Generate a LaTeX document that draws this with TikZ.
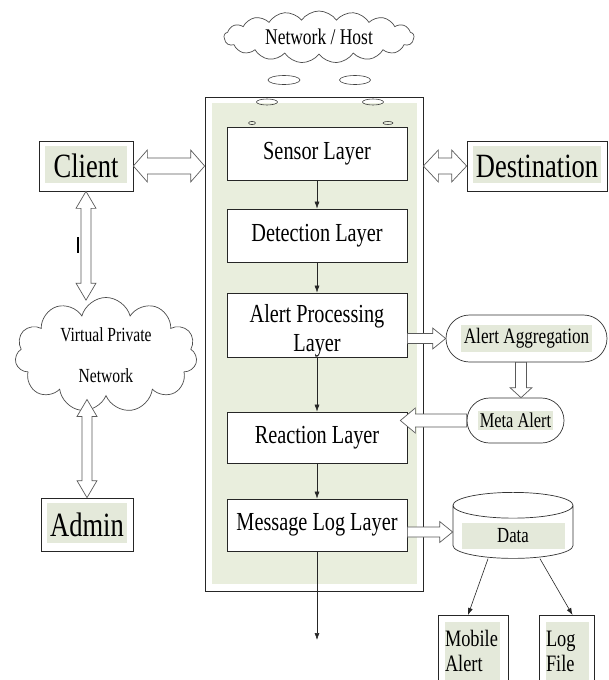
\documentclass[tikz,border=0pt]{standalone}
\usepackage{fontspec}
\setmainfont{Liberation Serif}[FakeStretch=0.78]
\usetikzlibrary{shapes.symbols,shapes.geometric,shapes.misc,calc,arrows.meta}
\definecolor{panel}{HTML}{E9EEDD}
\definecolor{hlc}{HTML}{E4E9DA}
\definecolor{agray}{HTML}{5A5A5A}
% shaft half-width, head half-width, head length of the hollow arrows
\newcommand\hsw{5}
\newcommand\hhw{10}
\newcommand\hhl{14}
\tikzset{
  hdim/.code args={#1/#2/#3}{\renewcommand\hsw{#1}\renewcommand\hhw{#2}\renewcommand\hhl{#3}},
  hollowone/.style={draw=agray, fill=white, line width=0.7pt, line join=miter,
    to path={let \p1=(\tikztostart), \p2=(\tikztotarget),
      \n1={atan2(\y2-\y1,\x2-\x1)}, \n2={veclen(\x2-\x1,\y2-\y1)} in
      ($(\p1)+(\n1+90:\hsw)$) -- ($(\p1)+(\n1:\n2-\hhl)+(\n1+90:\hsw)$)
      -- ($(\p1)+(\n1:\n2-\hhl)+(\n1+90:\hhw)$) -- (\p2)
      -- ($(\p1)+(\n1:\n2-\hhl)+(\n1-90:\hhw)$) -- ($(\p1)+(\n1:\n2-\hhl)+(\n1-90:\hsw)$)
      -- ($(\p1)+(\n1-90:\hsw)$) -- cycle}},
  hollowtwo/.style={draw=agray, fill=white, line width=0.7pt, line join=miter,
    to path={let \p1=(\tikztostart), \p2=(\tikztotarget),
      \n1={atan2(\y2-\y1,\x2-\x1)}, \n2={veclen(\x2-\x1,\y2-\y1)} in
      ($(\p1)+(\n1:\hhl)+(\n1+90:\hsw)$) -- ($(\p1)+(\n1:\n2-\hhl)+(\n1+90:\hsw)$)
      -- ($(\p1)+(\n1:\n2-\hhl)+(\n1+90:\hhw)$) -- (\p2)
      -- ($(\p1)+(\n1:\n2-\hhl)+(\n1-90:\hhw)$) -- ($(\p1)+(\n1:\n2-\hhl)+(\n1-90:\hsw)$)
      -- ($(\p1)+(\n1:\hhl)+(\n1-90:\hsw)$) -- ($(\p1)+(\n1:\hhl)+(\n1-90:\hhw)$)
      -- (\p1) -- ($(\p1)+(\n1:\hhl)+(\n1+90:\hhw)$) -- cycle}},
  hlfill/.style n args={4}{path picture={\fill[hlc]
      ([xshift=#1,yshift=-#2]path picture bounding box.north west) rectangle
      ([xshift=-#3,yshift=#4]path picture bounding box.south east);}},
  layerbox/.style={draw=black!85, fill=white, line width=0.7pt, minimum width=180,
    inner sep=0, align=center, font=\fontsize{26}{29}\selectfont},
  sidebox/.style={draw=black!85, fill=white, line width=0.7pt, inner sep=0,
    font=\fontsize{34}{34}\selectfont, hlfill={6}{5}{6}{8}},
  outbox/.style={draw=black!85, fill=white, line width=0.7pt, inner sep=7,
    minimum height=72, align=left, font=\fontsize{23.5}{25}\selectfont},
  flow/.style={draw=black!85, line width=0.6pt, -{Latex[length=7pt,width=5pt]}},
  pill/.style={rounded rectangle, draw=black!80, fill=white, line width=0.7pt, inner sep=0},
  puff/.style={cloud, draw=black!70, fill=white, line width=0.7pt, cloud ignores aspect, inner sep=0},
  hole/.style={draw=black!75, line width=0.6pt},
}
\begin{document}
\begin{tikzpicture}[x=1pt,y=1pt]
\useasboundingbox (0,0) rectangle (608,-680);
\fill[white] (0,0) rectangle (608,-680);

% network cloud and the openings of the IDS frame
\node[puff, cloud puffs=17, cloud puff arc=110, minimum width=190, minimum height=52,
      font=\fontsize{22.4}{24}\selectfont] (net) at (319,-37) {Network / Host};
\draw[hole] (284,-80) ellipse [x radius=16, y radius=4.5];
\draw[hole] (355,-80) ellipse [x radius=15.5, y radius=4.5];

% IDS frame
\node[draw=black!85, fill=white, line width=0.7pt, minimum width=218, minimum height=494,
      inner sep=0] (frame) at (314,-344) {};
\node[fill=panel, minimum width=205, minimum height=481, inner sep=0] (panel) at (314.5,-343.5) {};
\draw[hole] (267,-102) ellipse [x radius=10.5, y radius=3];
\draw[hole] (373,-102) ellipse [x radius=10.5, y radius=3];
\draw[hole] (252,-123) ellipse [x radius=3.5, y radius=1.6];
\draw[hole] (388,-123) ellipse [x radius=5, y radius=1.6];

% layers
\node[layerbox, minimum height=53] (sensor) at (317,-153.5) {Sensor Layer};
\node[layerbox, minimum height=53] (detect) at (317,-235.5) {Detection Layer};
\node[layerbox, minimum height=64,
      label={[yshift=-6pt, align=center, font=\fontsize{26}{29}\selectfont]center:Alert Processing\\Layer}]
  (alertp) at (317,-325) {};
\node[layerbox, minimum height=51] (react) at (317,-437.5) {Reaction Layer};
\node[layerbox, minimum height=52] (msg) at (317,-525) {Message Log Layer};
\coordinate (out) at (317,-640);

\draw[flow] (sensor) -- (detect);
\draw[flow] (detect) -- (alertp);
\draw[flow] (alertp) -- (react);
\draw[flow] (react) -- (msg);
\draw[flow] (msg) -- (out);

% endpoints
\node[sidebox, minimum width=94, minimum height=50] (client) at (86,-166) {Client};
\node[sidebox, minimum width=140, minimum height=50] (dest) at (537,-166) {Destination};
\node[sidebox, minimum width=92, minimum height=53] (admin) at (87,-524.5) {Admin};
\node[puff, cloud puffs=11, minimum width=182, minimum height=115, align=center,
      font=\fontsize{20}{41}\selectfont] (vpn) at (106,-355) {Virtual Private\\Network};

\draw[hollowtwo, hdim=8/16/14] (client.east) to (client.east -| frame.west);
\draw[hollowtwo, hdim=8/16/15] (frame.east |- dest.west) to (dest.west);
\draw[hollowtwo, hdim=5/10/17] (client.south) to ([yshift=-3]client.south |- vpn.north);
\draw[hollowtwo, hdim=5/10/17] ([yshift=-3]admin.north |- vpn.south) to (admin.north);
\draw[line width=1.3pt] (78,-237) -- (78,-253);

% alert handling
\node[pill, minimum width=161, minimum height=47, font=\fontsize{22}{24}\selectfont]
  (agg) at (526.5,-338.5) {\setlength\fboxsep{3pt}\colorbox{hlc}{Alert Aggregation}};
\node[pill, minimum width=97, minimum height=45, font=\fontsize{21}{23}\selectfont]
  (meta) at (515.5,-420.5) {\setlength\fboxsep{2pt}\colorbox{hlc}{Meta Alert}};
\coordinate (am) at ($(agg.south)!0.5!(agg.south -| meta.north)$);

\draw[hollowone, hdim=5/10.5/13] (alertp.east |- agg.west) to (agg.west);
\draw[hollowone, hdim=5.5/11/10] (am) to (am |- meta.north);
\draw[hollowone, hdim=6.5/12.5/15] (meta.west) to ([xshift=-7]react.east |- meta.west);

% storage and outputs
\node[cylinder, shape border rotate=90, draw=black!80, fill=white, line width=0.7pt,
      aspect=0.25, minimum width=120, minimum height=66, inner sep=0,
      font=\fontsize{21.5}{23}\selectfont]
  (data) at (513,-532)
  {\raisebox{-4pt}[\height][\depth]{\setlength\fboxsep{6pt}\colorbox{hlc}{\makebox[91pt]{Data}}}};
\draw[hollowone, hdim=5/10.5/13] (msg.east |- data.west) to (data.west);

\node[outbox, anchor=north, minimum width=70, text width=56, hlfill={7}{7}{8}{0}]
  (mobile) at (473,-615) {Mobile\\Alert};
\node[outbox, anchor=north, minimum width=55, text width=41, hlfill={7}{7}{5}{0}]
  (logf) at (566.5,-615) {Log\\File};

\draw[flow] ([xshift=-25]data.south) -- ([xshift=-5]mobile.north);
\draw[flow] ([xshift=27]data.south) -- ([xshift=6]logf.north);
\end{tikzpicture}
\end{document}
